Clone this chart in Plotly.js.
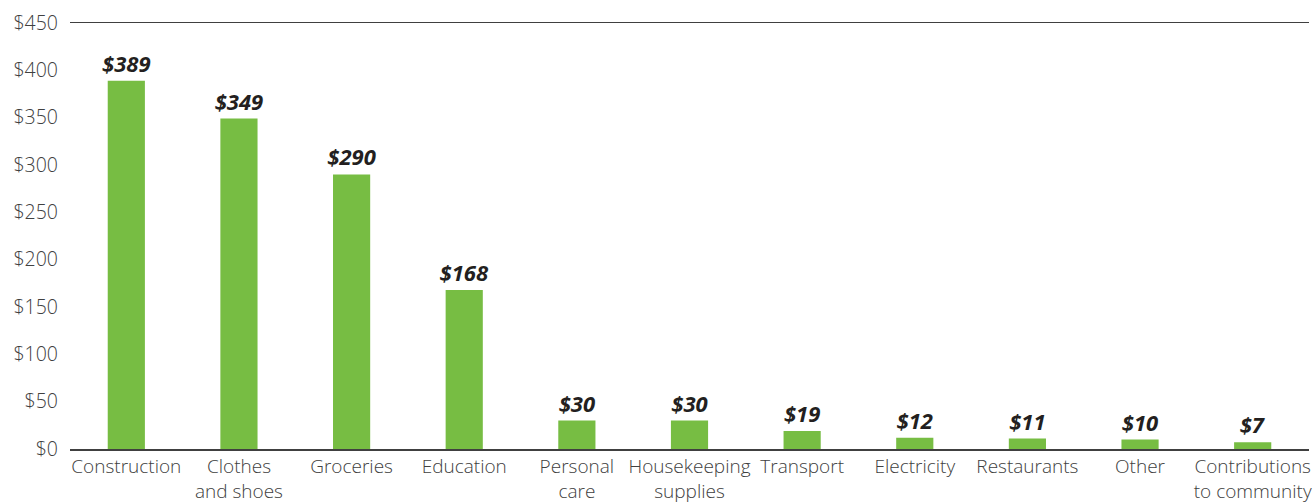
<!DOCTYPE html>
<html><head><meta charset="utf-8">
<script src="https://cdn.plot.ly/plotly-3.0.1.min.js"></script>
<style>html,body{margin:0;padding:0;background:#fff}</style>
</head><body>
<div id="chart" style="width:1315px;height:503px"></div>
<script>
const categories = ["Construction","Clothes<br>and shoes","Groceries","Education","Personal<br>care","Housekeeping<br>supplies","Transport","Electricity","Restaurants","Other","Contributions<br>to community"];
const values = [389,349,290,168,30,30,19,12,11,10,7];
const yTicks = [0,50,100,150,200,250,300,350,400,450];
const yTickLabels = yTicks.map(v => "$" + v);

Plotly.newPlot("chart", [{
  type: "bar",
  x: categories,
  y: values,
  marker: {color: "#77bd43"},
  text: values.map(v => "$" + v),
  textposition: "outside",
  constraintext: "none",
  cliponaxis: false,
  textfont: {family: "Open Sans", size: 22, color: "#231f20", weight: 700, style: "italic"},
  hoverinfo: "none"
}], {
  width: 1315, height: 503,
  margin: {l: 70, r: 6, t: 23, b: 54},
  paper_bgcolor: "#fff", plot_bgcolor: "#fff",
  bargap: 0.67,
  showlegend: false,
  font: {family: "Open Sans", color: "#404040"},
  xaxis: {
    type: "category",
    showline: true, mirror: true, linecolor: "#404040", linewidth: 1.5,
    showgrid: false, ticks: "",
    tickfont: {size: 19, color: "#404040", weight: 300},
    ticklabelstandoff: 0,
    automargin: false
  },
  yaxis: {
    range: [0, 450],
    tickvals: yTicks, ticktext: yTickLabels,
    showgrid: false, zeroline: false, showline: false, ticks: "",
    tickfont: {size: 19.5, color: "#404040", weight: 300},
    ticklabelstandoff: 11,
    automargin: false
  }
}, {staticPlot: true});
</script>
</body></html>
